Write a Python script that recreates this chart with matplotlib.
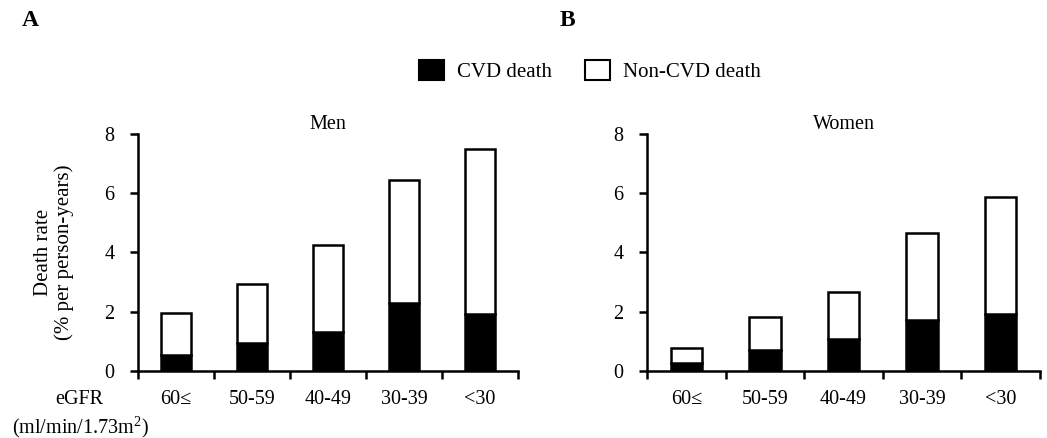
import matplotlib
matplotlib.use("Agg")
import matplotlib.pyplot as plt
from matplotlib.patches import Patch

plt.rcParams['font.family'] = ['Liberation Serif', 'DejaVu Serif']
plt.rcParams['mathtext.fontset'] = 'custom'
plt.rcParams['mathtext.rm'] = 'Liberation Serif'

categories = ['60≤', '50-59', '40-49', '30-39', '<30']
men_total = [1.97, 2.95, 4.26, 6.44, 7.51]
men_cvd = [0.54, 0.93, 1.31, 2.29, 1.93]
women_total = [0.77, 1.81, 2.66, 4.65, 5.86]
women_cvd = [0.28, 0.71, 1.07, 1.72, 1.91]
yticks = [0, 2, 4, 6, 8]

W, H = 1047, 438
FS = 14.5
fig = plt.figure(figsize=(W / 100, H / 100), dpi=100)

def make_ax(left_px, right_px, total, cvd, title):
    top_px, bot_px = 134, 371
    ax = fig.add_axes([left_px / W, 1 - bot_px / H, (right_px - left_px) / W, (bot_px - top_px) / H])
    x = list(range(len(categories)))
    noncvd = [t - c for t, c in zip(total, cvd)]
    ax.bar(x, cvd, width=0.4, color='black', edgecolor='black', linewidth=1.8, zorder=3)
    ax.bar(x, noncvd, bottom=cvd, width=0.4, color='white', edgecolor='black', linewidth=1.8, zorder=3)
    ax.set_xlim(-0.5, len(categories) - 0.5)
    ax.set_ylim(0, 8)
    ax.set_yticks(yticks)
    ax.set_xticks([i - 0.5 for i in range(len(categories) + 1)])
    ax.set_xticklabels([])
    ax.set_xticks(x, minor=True)
    ax.set_xticklabels(categories, minor=True)
    ax.tick_params(axis='x', which='minor', length=0, labelsize=FS, pad=14)
    ax.tick_params(axis='x', which='major', length=6, width=1.8, direction='out')
    ax.tick_params(axis='y', length=6, width=1.8, direction='out', labelsize=FS, pad=11)
    for s in ['top', 'right']:
        ax.spines[s].set_visible(False)
    for s in ['left', 'bottom']:
        ax.spines[s].set_linewidth(1.8)
    ax.set_title(title, fontsize=FS, pad=0)
    return ax

ax1 = make_ax(138, 518, men_total, men_cvd, 'Men')
ax2 = make_ax(647, 1040, women_total, women_cvd, 'Women')

ax1.set_ylabel('Death rate\n(% per person-years)', fontsize=15, labelpad=22, linespacing=1.1)

fig.text(79 / W, 1 - 400 / H, 'eGFR', fontsize=FS, ha='center', va='center')
fig.text(80 / W, 1 - 427 / H, r'(ml/min/1.73m$^{2}$)', fontsize=FS, ha='center', va='center')

fig.text(30 / W, 1 - 20 / H, 'A', fontsize=17, fontweight='bold', ha='center', va='center')
fig.text(567 / W, 1 - 20 / H, 'B', fontsize=17, fontweight='bold', ha='center', va='center')

handles = [Patch(facecolor='black', edgecolor='black', linewidth=1.5, label='CVD death'),
           Patch(facecolor='white', edgecolor='black', linewidth=1.5, label='Non-CVD death')]
fig.legend(handles=handles, loc='center', bbox_to_anchor=(590 / W, 1 - 71 / H), ncol=2,
           frameon=False, fontsize=15, handlelength=1.2, handleheight=1.1,
           handletextpad=0.6, columnspacing=1.6)

fig.savefig('out.png', dpi=100)
